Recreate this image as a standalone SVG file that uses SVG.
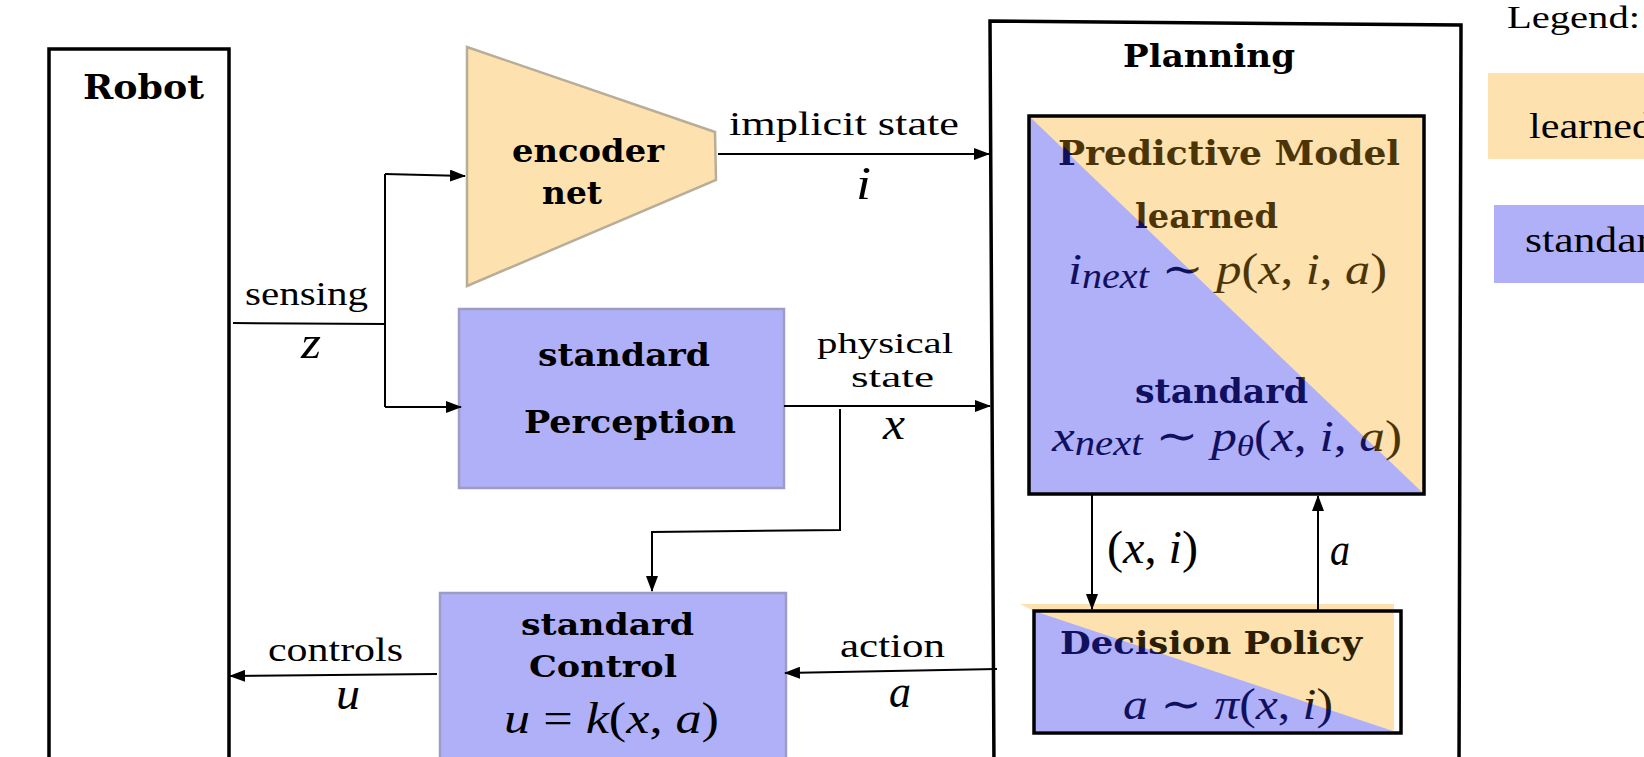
<svg xmlns="http://www.w3.org/2000/svg" width="1644" height="757" viewBox="0 0 1644 757">
<defs>
<style>
.b{font-family:"DejaVu Serif","Liberation Serif",serif;font-weight:bold;fill:#000}
.r{font-family:"Liberation Serif","DejaVu Serif",serif;fill:#000}
.m{font-family:"Liberation Serif","DejaVu Serif",serif;font-style:italic;fill:#000}
.n{font-style:normal}
.ln{fill:none;stroke:#000;stroke-width:2}
.arr{marker-end:url(#ah)}
.peach{fill:#FDE1AE}
.blue{fill:#B0B0F8}
</style>
<marker id="ah" viewBox="0 0 16 12" refX="15" refY="6" markerWidth="16" markerHeight="12" markerUnits="userSpaceOnUse" orient="auto">
<path d="M0,0 L16,6 L0,12 Z" fill="#000"/>
</marker>
<linearGradient id="gPM" gradientUnits="userSpaceOnUse" x1="1223.2" y1="309.4" x2="1230.8" y2="301.6">
<stop offset="0" stop-color="#10105e"/><stop offset="0.5" stop-color="#10105e"/><stop offset="0.5" stop-color="#4a3408"/><stop offset="1" stop-color="#4a3408"/>
</linearGradient>
<linearGradient id="gDP" gradientUnits="userSpaceOnUse" x1="1211.8" y1="674.6" x2="1214.2" y2="667.4">
<stop offset="0" stop-color="#10105e"/><stop offset="0.5" stop-color="#10105e"/><stop offset="0.5" stop-color="#2a1e05"/><stop offset="1" stop-color="#2a1e05"/>
</linearGradient>
</defs>
<rect x="0" y="0" width="1644" height="757" fill="#fff"/>

<g id="robot">
<rect x="49" y="49" width="180" height="720" fill="none" stroke="#000" stroke-width="3.5"/>
<text class="b" x="83" y="99" font-size="34" textLength="121" lengthAdjust="spacingAndGlyphs">Robot</text>
</g>

<g id="encoder">
<polygon points="467,47 715,132 716,180 467,286" class="peach" stroke="#b8ad98" stroke-width="2.5"/>
<text class="b" x="512" y="162" font-size="31" textLength="152" lengthAdjust="spacingAndGlyphs">encoder</text>
<text class="b" x="542" y="204" font-size="31" textLength="60" lengthAdjust="spacingAndGlyphs">net</text>
</g>

<g id="perception">
<rect x="459" y="309" width="325" height="179" class="blue" stroke="#9c9cc4" stroke-width="2.5"/>
<text class="b" x="538" y="366" font-size="31" textLength="172" lengthAdjust="spacingAndGlyphs">standard</text>
<text class="b" x="524" y="433" font-size="31" textLength="212" lengthAdjust="spacingAndGlyphs">Perception</text>
</g>

<g id="control">
<rect x="440" y="593" width="346" height="180" class="blue" stroke="#9c9cc4" stroke-width="2.5"/>
<text class="b" x="521" y="635" font-size="30" textLength="173" lengthAdjust="spacingAndGlyphs">standard</text>
<text class="b" x="529" y="677" font-size="30" textLength="148" lengthAdjust="spacingAndGlyphs">Control</text>
<text class="m" x="504" y="733" font-size="44" textLength="215" lengthAdjust="spacingAndGlyphs">u<tspan class="n"> = </tspan>k<tspan class="n">(</tspan>x<tspan class="n">, </tspan>a<tspan class="n">)</tspan></text>
</g>

<g id="planning">
<path d="M990,21 L1461,25 L1459,770 L994,770 Z" fill="none" stroke="#000" stroke-width="3.5"/>
<text class="b" x="1123" y="67" font-size="32" textLength="172" lengthAdjust="spacingAndGlyphs">Planning</text>
</g>

<g id="predictive-model">
<rect x="1030" y="117" width="394" height="377" class="peach"/>
<polygon points="1030,117 1424,494 1030,494" class="blue"/>
<rect x="1029" y="116" width="395" height="378" fill="none" stroke="#000" stroke-width="3.5"/>
<text class="b" x="1058" y="165" font-size="34" textLength="342" lengthAdjust="spacingAndGlyphs" style="fill:url(#gPM)">Predictive Model</text>
<text class="b" x="1135" y="228" font-size="33" textLength="143" lengthAdjust="spacingAndGlyphs" style="fill:url(#gPM)">learned</text>
<text class="m" x="1068" y="284" font-size="44" textLength="319" lengthAdjust="spacingAndGlyphs" style="fill:url(#gPM)">i<tspan font-size="35" dy="4">next</tspan><tspan class="n" dy="-4"> ∼ </tspan>p<tspan class="n">(</tspan>x<tspan class="n">, </tspan>i<tspan class="n">, </tspan>a<tspan class="n">)</tspan></text>
<text class="b" x="1135" y="403" font-size="33" textLength="173" lengthAdjust="spacingAndGlyphs" style="fill:url(#gPM)">standard</text>
<text class="m" x="1052" y="451" font-size="44" textLength="350" lengthAdjust="spacingAndGlyphs" style="fill:url(#gPM)">x<tspan font-size="35" dy="4">next</tspan><tspan class="n" dy="-4"> ∼ </tspan>p<tspan font-size="30" dy="5">θ</tspan><tspan class="n" dy="-5">(</tspan>x<tspan class="n">, </tspan>i<tspan class="n">, </tspan>a<tspan class="n">)</tspan></text>
</g>

<g id="decision-policy">
<path d="M1020,604 L1394,604 L1394,731 L1034,731 L1034,611 Z" class="peach"/>
<polygon points="1034,611 1393,731 1034,731" class="blue"/>
<rect x="1034" y="611" width="367" height="122" fill="none" stroke="#000" stroke-width="3.5"/>
<text class="b" x="1060" y="654" font-size="31" textLength="302" lengthAdjust="spacingAndGlyphs" style="fill:url(#gDP)">Decision Policy</text>
<text class="m" x="1123" y="719" font-size="44" textLength="210" lengthAdjust="spacingAndGlyphs" style="fill:url(#gDP)">a<tspan class="n"> ∼ </tspan>π<tspan class="n">(</tspan>x<tspan class="n">, </tspan>i<tspan class="n">)</tspan></text>
</g>

<g id="legend">
<text class="r" x="1507" y="28" font-size="31" textLength="133" lengthAdjust="spacingAndGlyphs">Legend:</text>
<rect x="1488" y="73" width="160" height="86" class="peach"/>
<text class="r" x="1529" y="138" font-size="36" textLength="124" lengthAdjust="spacingAndGlyphs">learned</text>
<rect x="1494" y="205" width="154" height="78" class="blue"/>
<text class="r" x="1525" y="252" font-size="36" textLength="148" lengthAdjust="spacingAndGlyphs">standard</text>
</g>

<g id="connectors">
<path class="ln" d="M233,323 L385,324"/>
<path class="ln" d="M385,174 L385,407"/>
<path class="ln arr" d="M385,174 L465,176"/>
<path class="ln arr" d="M385,407 L461,407"/>
<path class="ln arr" d="M718,154 L989,154"/>
<path class="ln arr" d="M784,406 L990,406"/>
<path class="ln arr" d="M840,409 L840,530 L652,532 L652,591"/>
<path class="ln arr" d="M997,669 L785,673"/>
<path class="ln arr" d="M437,674 L230,676"/>
<path class="ln arr" d="M1092,495 L1092,609"/>
<path class="ln arr" d="M1318,611 L1318,496"/>
<text class="r" x="245" y="305" font-size="34" textLength="123" lengthAdjust="spacingAndGlyphs">sensing</text>
<text class="m" x="301" y="358" font-size="46" textLength="20" lengthAdjust="spacingAndGlyphs">z</text>
<text class="r" x="729" y="135" font-size="34" textLength="230" lengthAdjust="spacingAndGlyphs">implicit state</text>
<text class="m" x="856" y="199" font-size="46" textLength="15" lengthAdjust="spacingAndGlyphs">i</text>
<text class="r" x="817" y="353" font-size="30" textLength="136" lengthAdjust="spacingAndGlyphs">physical</text>
<text class="r" x="851" y="387" font-size="30" textLength="83" lengthAdjust="spacingAndGlyphs">state</text>
<text class="m" x="883" y="439" font-size="46" textLength="22" lengthAdjust="spacingAndGlyphs">x</text>
<text class="r" x="268" y="661" font-size="34" textLength="135" lengthAdjust="spacingAndGlyphs">controls</text>
<text class="m" x="336" y="709" font-size="46" textLength="24" lengthAdjust="spacingAndGlyphs">u</text>
<text class="r" x="840" y="657" font-size="34" textLength="105" lengthAdjust="spacingAndGlyphs">action</text>
<text class="m" x="889" y="707" font-size="46" textLength="22" lengthAdjust="spacingAndGlyphs">a</text>
<text class="m" x="1107" y="563" font-size="46" textLength="91" lengthAdjust="spacingAndGlyphs"><tspan class="n">(</tspan>x<tspan class="n">, </tspan>i<tspan class="n">)</tspan></text>
<text class="m" x="1330" y="565" font-size="46" textLength="20" lengthAdjust="spacingAndGlyphs">a</text>
</g>
</svg>
